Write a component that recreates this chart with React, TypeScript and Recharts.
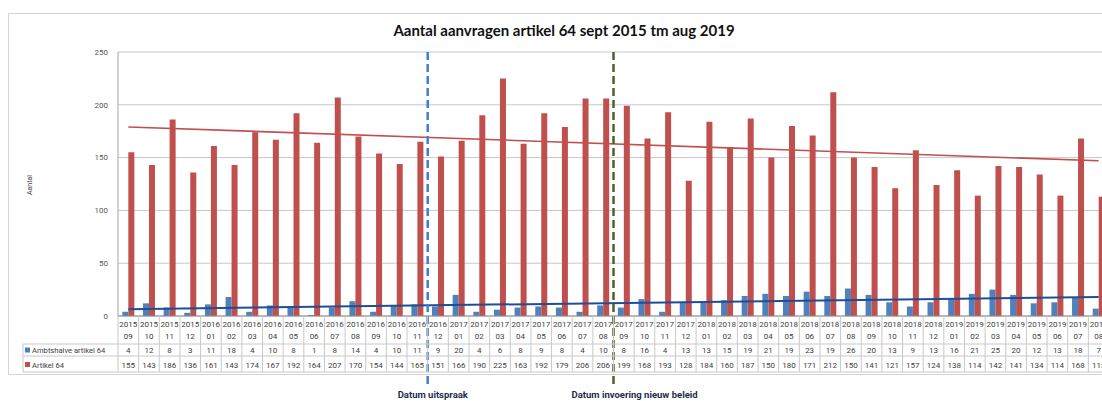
import { ComposedChart, Bar, XAxis, YAxis, CartesianGrid, ReferenceLine } from 'recharts';

const PERIODS = [
  '2015-09', '2015-10', '2015-11', '2015-12',
  '2016-01', '2016-02', '2016-03', '2016-04', '2016-05', '2016-06',
  '2016-07', '2016-08', '2016-09', '2016-10', '2016-11', '2016-12',
  '2017-01', '2017-02', '2017-03', '2017-04', '2017-05', '2017-06',
  '2017-07', '2017-08', '2017-09', '2017-10', '2017-11', '2017-12',
  '2018-01', '2018-02', '2018-03', '2018-04', '2018-05', '2018-06',
  '2018-07', '2018-08', '2018-09', '2018-10', '2018-11', '2018-12',
  '2019-01', '2019-02', '2019-03', '2019-04', '2019-05', '2019-06',
  '2019-07', '2019-08',
];

const AMBTSHALVE = [
  4, 12, 8, 3, 11, 18, 4, 10, 8, 1, 8, 14, 4, 10, 11, 9,
  20, 4, 6, 8, 9, 8, 4, 10, 8, 16, 4, 13, 13, 15, 19, 21,
  19, 23, 19, 26, 20, 13, 9, 13, 16, 21, 25, 20, 12, 13, 18, 7,
];

const ARTIKEL = [
  155, 143, 186, 136, 161, 143, 174, 167, 192, 164, 207, 170, 154, 144, 165, 151,
  166, 190, 225, 163, 192, 179, 206, 206, 199, 168, 193, 128, 184, 160, 187, 150,
  180, 171, 212, 150, 141, 121, 157, 124, 138, 114, 142, 141, 134, 114, 168, 113,
];

// trendline start / end values
const TREND_ARTIKEL = [179, 147];
const TREND_AMBTSHALVE = [6.5, 18];

const Y_TICKS = [0, 50, 100, 150, 200, 250];

const MARKER_AFTER = ['2016-11', '2017-08'];
const MARKER_LABELS = ['Datum uitspraak', 'Datum invoering nieuw beleid'];

const BLUE = '#4f81bd';
const RED = '#c0504d';
const MARKER_COLORS = ['#3f7fd6', '#4f6228'];
const LABEL_DX = [-30, -42];
const GRID = '#c8c8c8';
const TEXT = '#404040';
const FONT = 'Roboto, sans-serif';

const W = 1115;
const H = 401;
const PLOT_LEFT = 118;
const PLOT_TOP = 52;
const PLOT_BOTTOM = 316;
const PLOT_RIGHT = 1109;
const YAXIS_W = 30;
const BAND = (PLOT_RIGHT - PLOT_LEFT) / PERIODS.length;
const ROW_1 = 344;
const ROW_2 = 356;
const TABLE_BOTTOM = 372;

const data = PERIODS.map((p, i) => ({
  period: p,
  i,
  ambtshalve: AMBTSHALVE[i],
  artikel: ARTIKEL[i],
}));

function TableTick(props: any) {
  const { x } = props;
  const i = props.index ?? props.payload?.index ?? 0;
  const [yr, mo] = PERIODS[i].split('-');
  const l = x - BAND / 2;
  const r = x + BAND / 2;
  const txt = { fontSize: 8, fill: TEXT, fontFamily: FONT, textAnchor: 'middle' as const };
  return (
    <g>
      <line x1={l} x2={l} y1={PLOT_BOTTOM} y2={TABLE_BOTTOM} stroke={GRID} />
      {i === PERIODS.length - 1 && (
        <line x1={r} x2={r} y1={PLOT_BOTTOM} y2={TABLE_BOTTOM} stroke={GRID} />
      )}
      <line x1={l} x2={r} y1={ROW_1} y2={ROW_1} stroke={GRID} />
      <line x1={l} x2={r} y1={ROW_2} y2={ROW_2} stroke={GRID} />
      <line x1={l} x2={r} y1={TABLE_BOTTOM} y2={TABLE_BOTTOM} stroke={GRID} />
      <text x={x} y={327} {...txt}>{yr}</text>
      <text x={x} y={339} {...txt}>{mo}</text>
      <text x={x} y={353} {...txt}>{AMBTSHALVE[i]}</text>
      <text x={x} y={367.5} {...txt}>{ARTIKEL[i]}</text>
      {i === 0 && (
        <g>
          <line x1={23} x2={l} y1={ROW_1} y2={ROW_1} stroke={GRID} />
          <line x1={23} x2={l} y1={ROW_2} y2={ROW_2} stroke={GRID} />
          <line x1={23} x2={l} y1={TABLE_BOTTOM} y2={TABLE_BOTTOM} stroke={GRID} />
          <line x1={23} x2={23} y1={ROW_1} y2={TABLE_BOTTOM} stroke={GRID} />
          <rect x={25} y={347.5} width={5} height={5} fill={BLUE} />
          <rect x={25} y={362} width={5} height={5} fill={RED} />
          <text x={32} y={353} fontSize={7.6} fill={TEXT} fontFamily={FONT}>Ambtshalve artikel 64</text>
          <text x={32} y={367.5} fontSize={7.6} fill={TEXT} fontFamily={FONT}>Artikel 64</text>
        </g>
      )}
    </g>
  );
}

function markerShape(k: number) {
  return (p: any) => {
    const x = p.x1;
    return (
      <g>
        <line
          x1={x}
          x2={x}
          y1={PLOT_TOP}
          y2={386}
          stroke={MARKER_COLORS[k]}
          strokeWidth={2.5}
          strokeDasharray="8 4"
        />
        <text
          x={x + LABEL_DX[k]}
          y={398}
          fontSize={9.5}
          fontWeight="bold"
          fill="#1f2d4d"
          fontFamily={FONT}
        >
          {MARKER_LABELS[k]}
        </text>
      </g>
    );
  };
}

export default function App() {
  const last = PERIODS.length - 1;
  return (
    <div
      style={{
        position: 'absolute',
        left: 0,
        top: 0,
        width: 1102,
        height: 401,
        overflow: 'hidden',
        background: '#fff',
        fontFamily: FONT,
      }}
    >
      <div
        style={{
          position: 'absolute',
          left: 8,
          top: 13,
          width: 1120,
          height: 360,
          border: '1px solid #d4d4d4',
        }}
      />
      <div
        style={{
          position: 'absolute',
          left: 0,
          width: 1128,
          top: 21,
          textAlign: 'center',
          fontSize: 15,
          fontWeight: 'bold',
          color: '#111',
          fontFamily: 'Lato, sans-serif',
        }}
      >
        Aantal aanvragen artikel 64 sept 2015 tm aug 2019
      </div>
      <div
        style={{
          position: 'absolute',
          left: 30,
          top: 185,
          fontSize: 7,
          color: TEXT,
          transform: 'translate(-50%, -50%) rotate(-90deg)',
        }}
      >
        Aantal
      </div>
      <div style={{ position: 'absolute', left: 0, top: 0 }}>
        <ComposedChart
          width={W}
          height={H}
          data={data}
          margin={{ top: PLOT_TOP, left: PLOT_LEFT - YAXIS_W, right: W - PLOT_RIGHT, bottom: 0 }}
          barCategoryGap="21%"
          barGap={0}
        >
          <CartesianGrid vertical={false} stroke={GRID} />
          <XAxis
            dataKey="period"
            height={H - PLOT_BOTTOM}
            interval={0}
            tickLine={false}
            axisLine={{ stroke: '#8c8c8c' }}
            tick={<TableTick />}
          />
          <XAxis
            xAxisId="n"
            dataKey="i"
            type="number"
            domain={[-0.5, last + 0.5]}
            allowDataOverflow
            hide
          />
          <YAxis
            width={YAXIS_W}
            domain={[0, 250]}
            ticks={Y_TICKS}
            tickLine={false}
            axisLine={{ stroke: '#a6a6a6' }}
            tick={{ fontSize: 8, fill: '#595959', fontFamily: FONT }}
            tickMargin={4}
          />
          <Bar dataKey="ambtshalve" fill={BLUE} isAnimationActive={false} />
          <Bar dataKey="artikel" fill={RED} isAnimationActive={false} />
          <ReferenceLine
            xAxisId="n"
            segment={[
              { x: 0, y: TREND_ARTIKEL[0] },
              { x: last, y: TREND_ARTIKEL[1] },
            ]}
            stroke={RED}
            strokeWidth={1.6}
          />
          <ReferenceLine
            xAxisId="n"
            segment={[
              { x: 0, y: TREND_AMBTSHALVE[0] },
              { x: last, y: TREND_AMBTSHALVE[1] },
            ]}
            stroke="#1f4e96"
            strokeWidth={2}
          />
          {MARKER_AFTER.map((m, k) => (
            <ReferenceLine
              key={m}
              xAxisId="n"
              x={PERIODS.indexOf(m) + 0.5}
              shape={markerShape(k)}
            />
          ))}
        </ComposedChart>
      </div>
    </div>
  );
}
